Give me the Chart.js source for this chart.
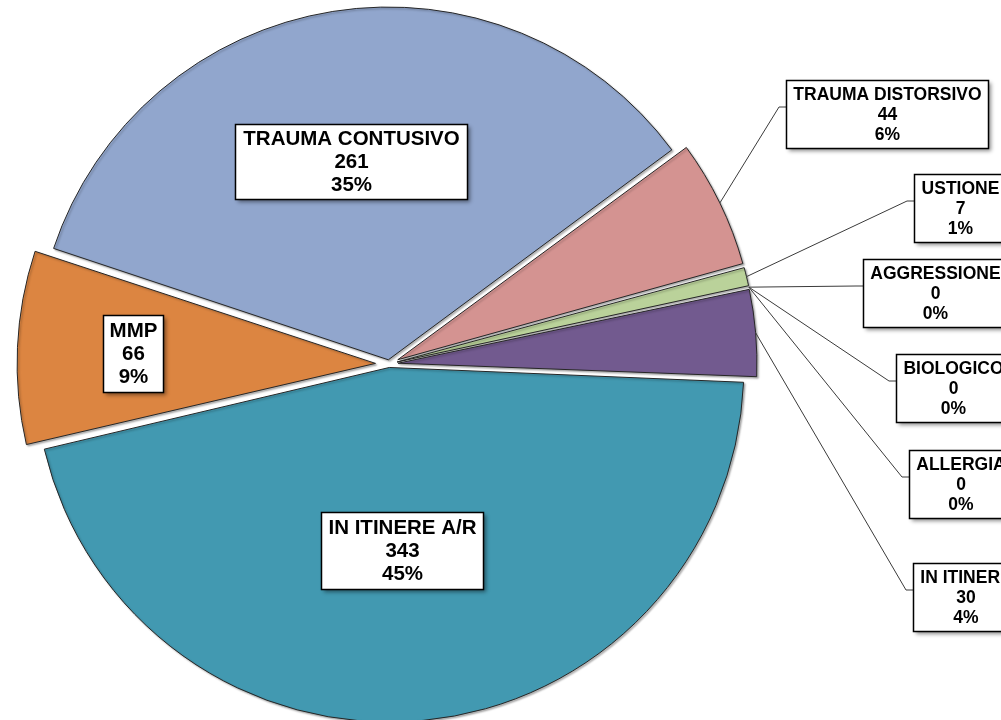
<!DOCTYPE html>
<html>
<head>
<meta charset="utf-8">
<title>Infortuni per tipologia</title>
<script src="https://cdn.jsdelivr.net/npm/chart.js@4.4.1/dist/chart.umd.min.js"></script>
<style>
    html, body { margin: 0; padding: 0; background: #fff; overflow: hidden; }
    #wrap { width: 1001px; height: 720px; }
</style>
</head>
<body>
<div id="wrap"><canvas id="pieChart" width="1001" height="720"></canvas></div>
<script>
// data, clockwise from the top-right slice
const categories = ['TRAUMA DISTORSIVO', 'USTIONE', 'AGGRESSIONE', 'BIOLOGICO', 'ALLERGIA', 'IN ITINERE', 'IN ITINERE A/R', 'MMP', 'TRAUMA CONTUSIVO'];
const counts = [44, 7, 0, 0, 0, 30, 343, 66, 261];
const percentLabels = ['6%', '1%', '0%', '0%', '0%', '4%', '45%', '9%', '35%'];

// styles
const sliceColors = ['#D49391', '#BAD29A', '#8FB0D8', '#C0504D', '#F79646', '#725A8F', '#4299B1', '#DC8541', '#91A6CD'];
// Chart.js offset units (it moves a slice by offset/4 * (2 - sin(circumference)))
const sliceOffsets = [39, 33, 32, 32, 32, 36.5, 14, 54, 17];

// label boxes: outer ones by left/top with a leader line, inner ones by centre
const labelBoxes = [
    { left: 786, top: 80, size: 17.5, lineH: 20, padX: 7, padY: 4 },
    { left: 914, top: 174, size: 17.5, lineH: 20, padX: 7, padY: 4 },
    { left: 863, top: 259, size: 17.5, lineH: 20, padX: 7, padY: 4 },
    { left: 896, top: 354, size: 17.5, lineH: 20, padX: 7, padY: 4 },
    { left: 909, top: 450, size: 17.5, lineH: 20, padX: 7, padY: 4 },
    { left: 913, top: 563, size: 17.5, lineH: 20, padX: 7, padY: 4 },
    { cx: 402, cy: 550, size: 20.5, lineH: 23, padX: 7, padY: 4 },
    { cx: 133, cy: 353, size: 20.5, lineH: 23, padX: 6, padY: 4 },
    { cx: 351, cy: 161, size: 20.5, lineH: 23, padX: 8, padY: 3 }
];

const pieLabels = {
    id: 'pieLabels',
    beforeDatasetsDraw(chart) {
        const ctx = chart.ctx;
        ctx.save();
        ctx.shadowColor = 'rgba(0, 0, 0, 0.3)';
        ctx.shadowBlur = 2;
        ctx.shadowOffsetX = 1.5;
        ctx.shadowOffsetY = 1.5;
    },
    afterDatasetsDraw(chart) {
        const ctx = chart.ctx;
        ctx.restore();
        const meta = chart.getDatasetMeta(0);

        meta.data.forEach((arc, i) => {
            const box = labelBoxes[i];
            const lines = [categories[i], String(counts[i]), percentLabels[i]];
            ctx.font = 'bold ' + box.size + 'px "Liberation Sans", Arial, sans-serif';
            const textW = Math.max(...lines.map(t => ctx.measureText(t).width));
            const w = Math.round(textW + box.padX * 2);
            const h = Math.round(lines.length * box.lineH + box.padY * 2);
            let left = box.left, top = box.top;
            if (box.cx !== undefined) {
                left = Math.round(box.cx - w / 2);
                top = Math.round(box.cy - h / 2);
            }

            // leader line from the outer edge of the (exploded) slice
            if (box.cx === undefined) {
                const p = arc.getProps(['x', 'y', 'startAngle', 'endAngle', 'outerRadius', 'circumference'], true);
                const mid = (p.startAngle + p.endAngle) / 2;
                const shift = sliceOffsets[i] / 4 * (2 - Math.sin(Math.min(Math.PI, p.circumference || 0)));
                const sx = p.x + Math.cos(mid) * (p.outerRadius + shift);
                const sy = p.y + Math.sin(mid) * (p.outerRadius + shift);
                const ey = top + 27;
                ctx.save();
                ctx.strokeStyle = '#3a3a3a';
                ctx.lineWidth = 1;
                ctx.beginPath();
                ctx.moveTo(sx, sy);
                ctx.lineTo(left - 7, ey);
                ctx.lineTo(left, ey);
                ctx.stroke();
                ctx.restore();
            }

            // box with shadow
            ctx.save();
            ctx.shadowColor = 'rgba(0, 0, 0, 0.45)';
            ctx.shadowBlur = 4;
            ctx.shadowOffsetX = 3;
            ctx.shadowOffsetY = 3;
            ctx.fillStyle = '#ffffff';
            ctx.fillRect(left, top, w, h);
            ctx.restore();
            ctx.save();
            ctx.strokeStyle = '#000000';
            ctx.lineWidth = 1.5;
            ctx.strokeRect(left + 0.5, top + 0.5, w, h);

            ctx.fillStyle = '#000000';
            ctx.textAlign = 'center';
            ctx.textBaseline = 'middle';
            lines.forEach((t, k) => {
                ctx.fillText(t, left + w / 2 + 0.5, top + box.padY + box.lineH * (k + 0.5) + 1);
            });
            ctx.restore();
        });
    }
};

new Chart(document.getElementById('pieChart').getContext('2d'), {
    type: 'pie',
    data: {
        labels: categories,
        datasets: [{
            data: counts,
            backgroundColor: sliceColors,
            borderColor: '#262626',
            borderWidth: 1,
            offset: sliceOffsets,
            hoverOffset: 0,
            clip: false
        }]
    },
    options: {
        responsive: false,
        animation: false,
        rotation: 53.5,
        radius: 352,
        layout: { padding: { left: 0, right: 223, top: 8, bottom: 0 } },
        plugins: {
            legend: { display: false },
            tooltip: { enabled: false }
        }
    },
    plugins: [pieLabels]
});
</script>
</body>
</html>
